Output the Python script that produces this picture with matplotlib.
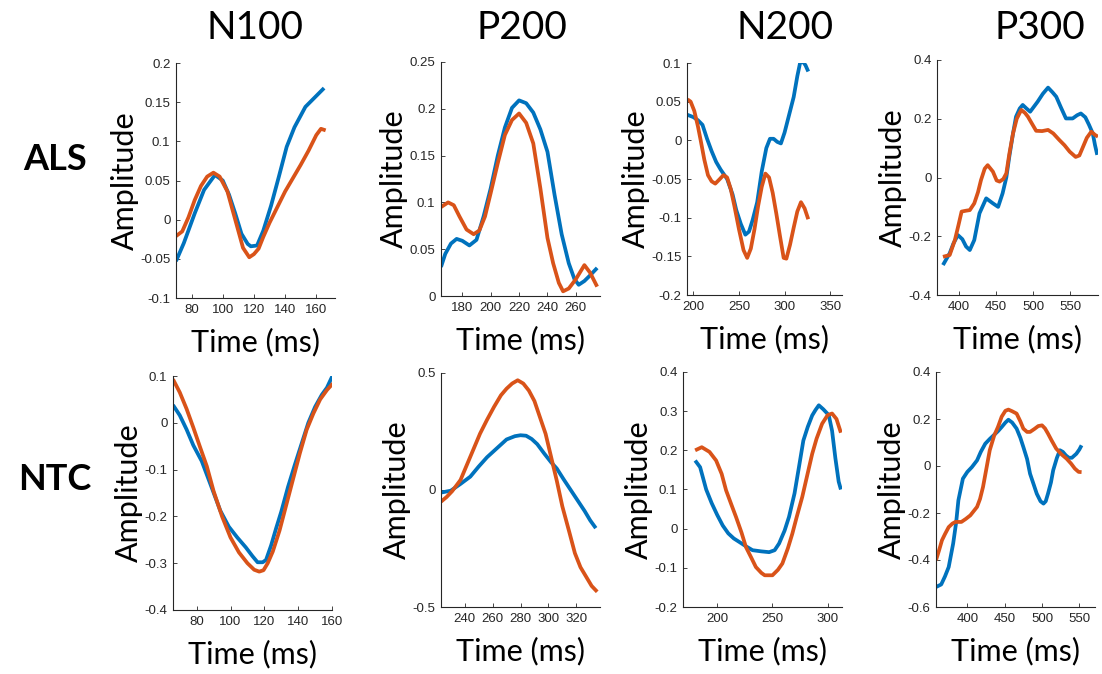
import numpy as np
import matplotlib
matplotlib.use('Agg')
import matplotlib.pyplot as plt
from matplotlib.ticker import FuncFormatter

plt.rcParams['axes.unicode_minus'] = False

# ---- data (time in ms, amplitude) ----
# ALS, N100
als_n100_t_blue = [70, 75, 82, 88, 95, 100, 104, 108, 112, 116, 118, 122, 126, 131, 136, 141, 146, 153, 160, 165]
als_n100_v_blue = [-0.053, -0.03, 0.008, 0.038, 0.057, 0.05, 0.032, 0.008, -0.018, -0.031, -0.034, -0.033, -0.014, 0.018, 0.055, 0.093, 0.118, 0.144, 0.158, 0.168]
als_n100_t_orange = [70, 74, 78, 82, 86, 90, 94, 98, 103, 108, 113, 117, 120, 123, 126, 130, 135, 140, 145, 150, 155, 160, 163, 166]
als_n100_v_orange = [-0.021, -0.015, 0.003, 0.025, 0.043, 0.055, 0.06, 0.055, 0.036, 0.0, -0.036, -0.048, -0.044, -0.037, -0.022, -0.004, 0.016, 0.036, 0.053, 0.07, 0.088, 0.108, 0.116, 0.114]

# ALS, P200
als_p200_t_blue = [165, 168, 172, 176, 180, 185, 190, 195, 200, 205, 210, 215, 220, 225, 230, 235, 240, 245, 250, 255, 259, 262, 266, 270, 275]
als_p200_v_blue = [0.031, 0.045, 0.056, 0.061, 0.059, 0.054, 0.06, 0.085, 0.115, 0.15, 0.18, 0.201, 0.209, 0.206, 0.196, 0.178, 0.154, 0.108, 0.066, 0.035, 0.018, 0.012, 0.016, 0.022, 0.03]
als_p200_t_orange = [165, 170, 174, 178, 183, 188, 192, 196, 200, 205, 210, 215, 220, 225, 230, 235, 240, 244, 248, 251, 255, 260, 266, 270, 275]
als_p200_v_orange = [0.095, 0.1, 0.097, 0.085, 0.071, 0.066, 0.07, 0.085, 0.11, 0.142, 0.172, 0.188, 0.195, 0.185, 0.163, 0.115, 0.062, 0.035, 0.014, 0.005, 0.008, 0.018, 0.033, 0.025, 0.01]

# ALS, N200
als_n200_t_blue = [193.5, 200, 205, 210, 215, 220, 225, 230, 237, 243, 247, 252, 257, 261, 265, 270, 275, 280, 284, 288, 292, 296, 300, 305, 310, 314, 317, 320, 323, 326]
als_n200_v_blue = [0.033, 0.03, 0.026, 0.02, 0.002, -0.014, -0.028, -0.038, -0.05, -0.07, -0.09, -0.108, -0.122, -0.118, -0.103, -0.08, -0.04, -0.01, 0.002, 0.002, -0.002, -0.004, 0.01, 0.033, 0.056, 0.083, 0.1, 0.102, 0.097, 0.089]
als_n200_t_orange = [193.5, 197, 201, 205, 208, 212, 216, 220, 224, 229, 233, 237, 241, 245, 250, 255, 259, 263, 267, 271, 275, 279, 283, 287, 291, 295, 299, 302, 306, 310, 314, 318, 322, 326]
als_n200_v_orange = [0.053, 0.05, 0.038, 0.018, 0.0, -0.025, -0.045, -0.053, -0.056, -0.05, -0.045, -0.048, -0.063, -0.085, -0.115, -0.142, -0.152, -0.14, -0.115, -0.085, -0.06, -0.043, -0.048, -0.068, -0.095, -0.124, -0.152, -0.153, -0.135, -0.113, -0.092, -0.08, -0.088, -0.102]

# ALS, P300
als_p300_t_blue = [379, 388, 393, 399, 405, 410, 415, 421, 428, 437, 446, 453, 459, 464, 468, 473, 477, 482, 486, 491, 496, 506, 513, 520, 526, 531, 537, 544, 553, 559, 564, 570, 575, 580, 583, 586]
als_p300_v_blue = [-0.298, -0.258, -0.225, -0.196, -0.21, -0.235, -0.247, -0.213, -0.122, -0.071, -0.088, -0.1, -0.054, 0.0, 0.071, 0.15, 0.207, 0.235, 0.247, 0.235, 0.224, 0.258, 0.285, 0.306, 0.29, 0.275, 0.24, 0.201, 0.201, 0.212, 0.218, 0.205, 0.179, 0.15, 0.11, 0.077]
als_p300_t_orange = [379, 388, 395, 400, 404, 410, 415, 421, 426, 430, 435, 439, 446, 451, 455, 460, 464, 468, 473, 478, 484, 489, 493, 498, 504, 512, 520, 527, 535, 542, 549, 557, 562, 567, 572, 578, 583, 587]
als_p300_v_orange = [-0.27, -0.264, -0.213, -0.16, -0.116, -0.113, -0.111, -0.088, -0.05, -0.009, 0.03, 0.042, 0.02, -0.01, -0.014, -0.005, 0.014, 0.08, 0.15, 0.2, 0.23, 0.22, 0.207, 0.185, 0.159, 0.158, 0.162, 0.15, 0.128, 0.11, 0.088, 0.07, 0.075, 0.105, 0.135, 0.156, 0.145, 0.139]

# NTC, N100
ntc_n100_t_blue = [66, 70, 74, 78, 83, 88, 94, 99, 104, 109, 113, 116, 119, 121, 124, 127, 130, 134, 138, 142, 146, 150, 154, 157, 160.5]
ntc_n100_v_blue = [0.038, 0.016, -0.014, -0.048, -0.082, -0.13, -0.188, -0.222, -0.245, -0.266, -0.285, -0.298, -0.298, -0.293, -0.262, -0.225, -0.19, -0.137, -0.09, -0.045, 0.0, 0.034, 0.06, 0.075, 0.102]
ntc_n100_t_orange = [66, 70, 74, 78, 82, 86, 90, 95, 100, 105, 110, 114, 117, 119.5, 122, 125, 129, 133, 137, 141, 145, 149, 153, 157, 160.5]
ntc_n100_v_orange = [0.093, 0.065, 0.03, -0.01, -0.052, -0.093, -0.146, -0.2, -0.245, -0.277, -0.3, -0.314, -0.318, -0.315, -0.3, -0.275, -0.23, -0.175, -0.12, -0.065, -0.015, 0.02, 0.05, 0.07, 0.084]

# NTC, P200
ntc_p200_t_blue = [223, 230, 237, 244, 250, 256, 263, 270, 276, 280, 284, 288, 292, 297, 302, 306, 311, 316, 321, 326, 330, 334]
ntc_p200_v_blue = [-0.011, -0.003, 0.026, 0.057, 0.1, 0.14, 0.178, 0.216, 0.23, 0.234, 0.232, 0.218, 0.196, 0.156, 0.118, 0.092, 0.045, 0.0, -0.045, -0.09, -0.13, -0.163]
ntc_p200_t_orange = [223, 227, 231, 237, 244, 251, 256, 261, 266, 270, 274, 278, 282, 286, 290, 294, 298, 302, 306, 310, 315, 319, 323, 327, 331, 335]
ntc_p200_v_orange = [-0.05, -0.03, -0.005, 0.043, 0.142, 0.241, 0.3, 0.355, 0.405, 0.433, 0.455, 0.469, 0.455, 0.425, 0.38, 0.31, 0.24, 0.14, 0.04, -0.07, -0.18, -0.27, -0.33, -0.37, -0.41, -0.435]

# NTC, N200
ntc_n200_t_blue = [180, 184.5, 190, 195, 200, 205, 210, 215, 220, 226, 232, 240, 247, 252, 256, 261, 265, 270, 274, 278, 282, 286, 289, 292, 296, 301, 304, 307, 310, 312]
ntc_n200_v_blue = [0.174, 0.157, 0.1, 0.065, 0.035, 0.008, -0.012, -0.025, -0.034, -0.045, -0.055, -0.058, -0.06, -0.055, -0.038, -0.005, 0.03, 0.09, 0.157, 0.225, 0.26, 0.289, 0.303, 0.315, 0.305, 0.29, 0.25, 0.18, 0.12, 0.1]
ntc_n200_t_orange = [180, 186, 193, 199, 204, 208, 213, 217, 222, 226, 231, 235, 240, 243, 250, 255, 259, 264, 268, 272, 277, 281, 286, 290, 295, 300, 304, 308, 312]
ntc_n200_v_orange = [0.2, 0.208, 0.196, 0.174, 0.14, 0.098, 0.06, 0.03, -0.01, -0.047, -0.075, -0.098, -0.113, -0.119, -0.119, -0.105, -0.089, -0.05, -0.013, 0.03, 0.081, 0.13, 0.191, 0.23, 0.268, 0.29, 0.294, 0.28, 0.245]

# NTC, P300
ntc_p300_t_blue = [358, 365, 370, 375, 381, 385, 388, 394, 400, 406, 413, 418, 424, 430, 435, 441, 446, 451, 455, 460, 466, 471, 475, 480, 484, 489, 493, 498, 502, 505, 508, 512, 515, 520, 524, 528, 532, 536, 540, 546, 550, 553]
ntc_p300_v_blue = [-0.515, -0.504, -0.47, -0.43, -0.33, -0.24, -0.146, -0.054, -0.025, -0.005, 0.024, 0.06, 0.095, 0.115, 0.13, 0.148, 0.166, 0.185, 0.197, 0.185, 0.159, 0.12, 0.081, 0.03, -0.033, -0.08, -0.118, -0.15, -0.16, -0.15, -0.118, -0.07, -0.018, 0.035, 0.067, 0.06, 0.045, 0.035, 0.035, 0.052, 0.07, 0.088]
ntc_p300_t_orange = [358, 362, 366, 370, 375, 380, 384, 392, 398, 404, 409, 413, 417, 421, 425, 430, 436, 441, 446, 451, 455, 460, 466, 471, 475, 480, 484, 490, 495, 500, 504, 508, 513, 519, 526, 533, 539, 544, 549, 553]
ntc_p300_v_orange = [-0.401, -0.36, -0.316, -0.29, -0.26, -0.245, -0.238, -0.238, -0.225, -0.21, -0.19, -0.174, -0.14, -0.089, -0.02, 0.067, 0.13, 0.166, 0.21, 0.235, 0.24, 0.233, 0.223, 0.19, 0.159, 0.145, 0.145, 0.158, 0.17, 0.173, 0.16, 0.138, 0.108, 0.074, 0.05, 0.031, 0.01, -0.011, -0.025, -0.026]

col_titles = ['N100', 'P200', 'N200', 'P300']
row_titles = ['ALS', 'NTC']

# axis limits and ticks per panel (row, col)
xlims = [[(70, 172), (165, 277), (193, 363), (371, 587)],
         [(66, 160), (223, 337), (169, 313), (358, 571)]]
xticks = [[np.arange(80, 161, 20), np.arange(180, 261, 20), [200, 250, 300, 350], [400, 450, 500, 550]],
          [np.arange(80, 161, 20), np.arange(240, 321, 20), [200, 250, 300], [400, 450, 500, 550]]]
ylims = [[(-0.1, 0.2), (0, 0.25), (-0.2, 0.1), (-0.4, 0.4)],
         [(-0.4, 0.1), (-0.5, 0.5), (-0.2, 0.4), (-0.6, 0.4)]]
ysteps = [[0.05, 0.05, 0.05, 0.2], [0.1, 0.5, 0.1, 0.2]]

series = [
    [(als_n100_t_blue, als_n100_v_blue, als_n100_t_orange, als_n100_v_orange),
     (als_p200_t_blue, als_p200_v_blue, als_p200_t_orange, als_p200_v_orange),
     (als_n200_t_blue, als_n200_v_blue, als_n200_t_orange, als_n200_v_orange),
     (als_p300_t_blue, als_p300_v_blue, als_p300_t_orange, als_p300_v_orange)],
    [(ntc_n100_t_blue, ntc_n100_v_blue, ntc_n100_t_orange, ntc_n100_v_orange),
     (ntc_p200_t_blue, ntc_p200_v_blue, ntc_p200_t_orange, ntc_p200_v_orange),
     (ntc_n200_t_blue, ntc_n200_v_blue, ntc_n200_t_orange, ntc_n200_v_orange),
     (ntc_p300_t_blue, ntc_p300_v_blue, ntc_p300_t_orange, ntc_p300_v_orange)],
]

# axes boxes in pixels: left, right, top, bottom
boxes = [[(176, 335, 63, 298), (441, 600, 62, 296), (687, 842, 63, 295), (937, 1098, 60, 295)],
         [(173, 332, 376, 610), (441, 600, 373, 607), (683, 842, 372, 607), (936, 1095, 372, 607)]]

W, H = 1102, 674
BLUE = '#0072BD'
ORANGE = '#D95319'
AXC = '#262626'
LABEL_FONT = 'Lato'
TICK_FONT = 'Liberation Sans'

fig = plt.figure(figsize=(W / 100, H / 100), dpi=100)


def fmt(v, pos):
    # matlab-like tick text, no "-0"
    v = round(v, 4) + 0.0
    if v == 0:
        return '0'
    return '%g' % v


for r in range(2):
    for c in range(4):
        l, rr, t, b = boxes[r][c]
        ax = fig.add_axes([l / W, 1 - b / H, (rr - l) / W, (b - t) / H])
        tb, vb, to, vo = series[r][c]
        ax.plot(tb, vb, color=BLUE, lw=2.7, solid_joinstyle='round', solid_capstyle='butt')
        ax.plot(to, vo, color=ORANGE, lw=2.7, solid_joinstyle='round', solid_capstyle='butt')

        ax.set_xlim(*xlims[r][c])
        ax.set_ylim(*ylims[r][c])
        ax.set_xticks(xticks[r][c])
        y0, y1 = ylims[r][c]
        ax.set_yticks(np.arange(y0, y1 + 1e-9, ysteps[r][c]))
        ax.yaxis.set_major_formatter(FuncFormatter(fmt))

        for side in ['top', 'right']:
            ax.spines[side].set_visible(False)
        for side in ['left', 'bottom']:
            ax.spines[side].set_color(AXC)
            ax.spines[side].set_linewidth(0.8)
        ax.tick_params(direction='in', length=3, width=0.6, colors=AXC,
                       labelsize=9.5, pad=4)
        for lab in ax.get_xticklabels() + ax.get_yticklabels():
            lab.set_family(TICK_FONT)

        ax.set_xlabel('Time (ms)', fontsize=22, family=LABEL_FONT, labelpad=9)
        ax.set_ylabel('Amplitude', fontsize=22, family=LABEL_FONT, labelpad=1)

# column titles
for x, s in zip([255, 522, 785, 1040], col_titles):
    fig.text(x / W, 1 - 28 / H, s, ha='center', va='center', fontsize=28, family=LABEL_FONT)

# row titles
for y, s in zip([160, 480], row_titles):
    fig.text(55 / W, 1 - y / H, s, ha='center', va='center', fontsize=26,
             family=LABEL_FONT, fontweight='bold')

fig.savefig('out.png', dpi=100)
